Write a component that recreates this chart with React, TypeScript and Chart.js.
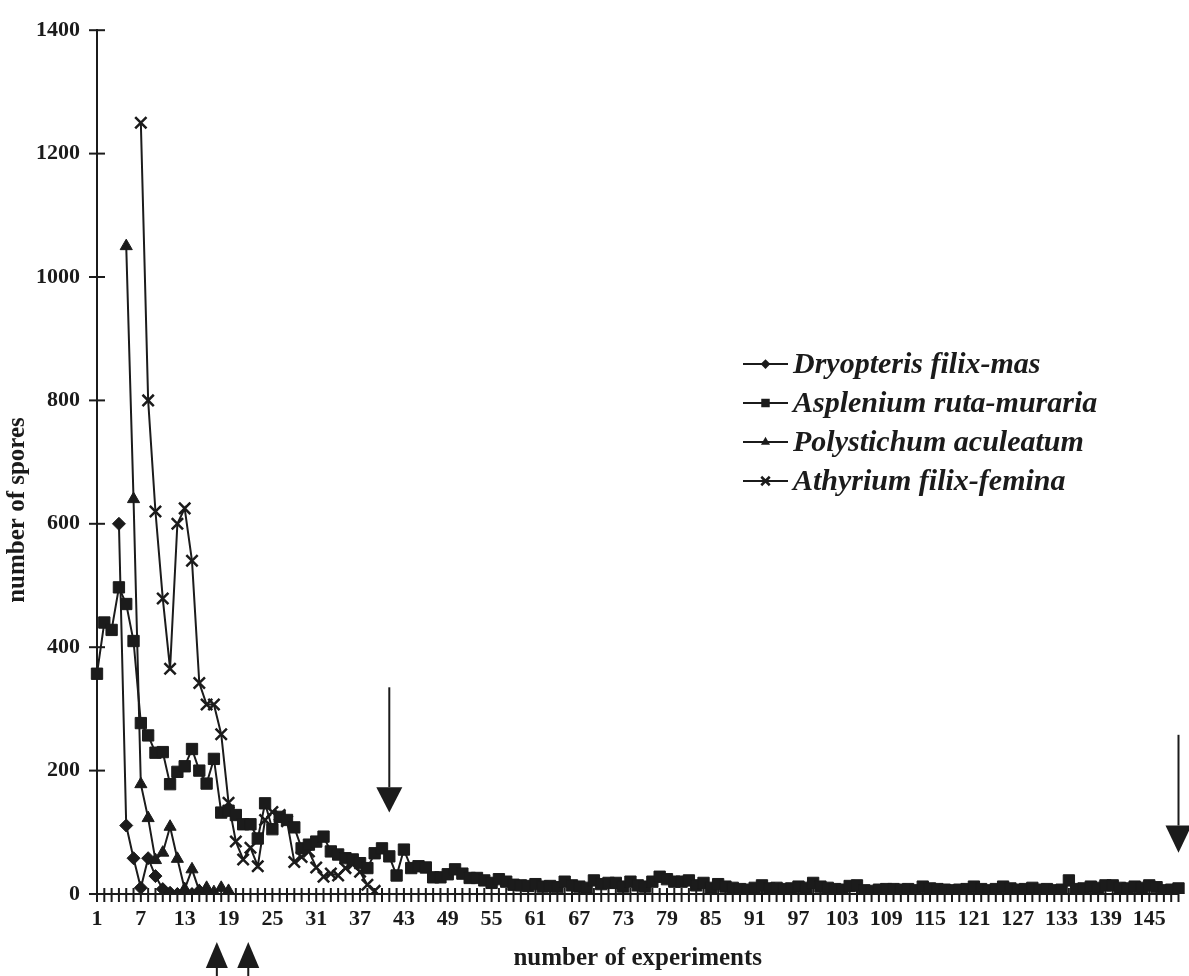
import React, { useEffect, useRef } from 'react';
import { Chart, registerables } from 'chart.js';

Chart.register(...registerables);

const INK = '#1b1b1b';
const FONT = '"Liberation Serif", "Times New Roman", serif';

const experiments: string[] = Array.from({ length: 149 }, (_, i) => String(i + 1));

const dryopteris: (number | null)[] = [
  null, null, null, 600, 111, 58, 10, 58, 29, 8, 2, 0, 3, 0, 5, 0,
];

const asplenium: number[] = [
  357, 440, 428, 497, 470, 410, 277, 257, 229, 230,
  178, 198, 207, 235, 200, 179, 219, 132, 135, 128,
  113, 113, 90, 147, 105, 125, 120, 108, 74, 80,
  85, 93, 69, 64, 58, 56, 50, 42, 66, 74,
  61, 30, 72, 42, 45, 43, 27, 27, 32, 40,
  33, 26, 26, 22, 18, 24, 20, 15, 14, 13,
  16, 12, 13, 11, 20, 14, 12, 10, 22, 16,
  18, 18, 12, 20, 14, 12, 20, 28, 24, 20,
  20, 22, 14, 18, 10, 16, 12, 10, 8, 7,
  10, 14, 9, 10, 8, 9, 12, 10, 18, 12,
  10, 8, 7, 13, 14, 6, 5, 7, 8, 8,
  7, 8, 6, 12, 9, 8, 7, 6, 7, 8,
  12, 8, 6, 8, 12, 9, 7, 8, 10, 7,
  8, 6, 7, 22, 8, 9, 12, 10, 14, 14,
  10, 9, 12, 10, 14, 11, 6, 7, 9,
];

const polystichum: (number | null)[] = [
  null, null, null, null, 1050, 640, 178, 123, 55, 67,
  109, 57, 8, 40, 5, 10, 3, 10, 5,
];

const athyrium: (number | null)[] = [
  null, null, null, null, null, null, 1250, 800, 620, 479,
  365, 600, 625, 540, 342, 307, 307, 259, 148, 85,
  56, 75, 45, 120, 133, 128, 118, 52, 60, 69,
  43, 28, 33, 30, 42, 48, 36, 15, 5,
];

const seriesNames = [
  'Dryopteris filix-mas',
  'Asplenium ruta-muraria',
  'Polystichum aculeatum',
  'Athyrium filix-femina',
];
const seriesStyles = ['rectRot', 'rect', 'triangle', 'crossRot'];
const seriesRadius = [6.5, 8, 7, 8];

const yTicks = { min: 0, max: 1400, step: 200 };
const xTitle = 'number of experiments';
const yTitle = 'number of spores';

// annotation arrows (category numbers)
const downArrowCats = [41, 149];
const upArrowCats = [17.4, 21.7];

function drawMarker(ctx: CanvasRenderingContext2D, style: string, x: number, y: number, r: number) {
  ctx.beginPath();
  if (style === 'rectRot') {
    ctx.moveTo(x - r, y); ctx.lineTo(x, y - r); ctx.lineTo(x + r, y); ctx.lineTo(x, y + r); ctx.closePath();
    ctx.fill();
  } else if (style === 'rect') {
    const s = r * Math.SQRT1_2;
    ctx.rect(x - s, y - s, 2 * s, 2 * s);
    ctx.fill();
  } else if (style === 'triangle') {
    ctx.moveTo(x, y - r);
    ctx.lineTo(x + r * 0.866, y + r * 0.5);
    ctx.lineTo(x - r * 0.866, y + r * 0.5);
    ctx.closePath();
    ctx.fill();
  } else {
    const d = r * Math.SQRT1_2;
    ctx.moveTo(x - d, y - d); ctx.lineTo(x + d, y + d);
    ctx.moveTo(x + d, y - d); ctx.lineTo(x - d, y + d);
    ctx.lineWidth = 2.5;
    ctx.stroke();
  }
}

const axisTicksPlugin = {
  id: 'crossTicks',
  beforeDatasetsDraw(chart: any) {
    const { ctx, chartArea, scales } = chart;
    ctx.save();
    ctx.strokeStyle = INK;
    ctx.lineWidth = 2;
    const ys = scales.y;
    ys.ticks.forEach((_t: any, i: number) => {
      const py = ys.getPixelForTick(i);
      ctx.beginPath();
      ctx.moveTo(chartArea.left - 8, py);
      ctx.lineTo(chartArea.left + 8, py);
      ctx.stroke();
    });
    const xs = scales.x;
    xs.ticks.forEach((_t: any, i: number) => {
      const px = xs.getPixelForTick(i);
      ctx.beginPath();
      ctx.moveTo(px, chartArea.bottom - 6);
      ctx.lineTo(px, chartArea.bottom + 8);
      ctx.stroke();
    });
    ctx.restore();
  },
};

const overlayPlugin = {
  id: 'overlay',
  afterDraw(chart: any) {
    const { ctx, chartArea, scales } = chart;
    const xs = scales.x;
    const ys = scales.y;
    ctx.save();
    ctx.fillStyle = INK;
    ctx.strokeStyle = INK;

    // y axis title
    ctx.save();
    ctx.translate(18, 510);
    ctx.rotate(-Math.PI / 2);
    ctx.font = `bold 25px ${FONT}`;
    ctx.textAlign = 'center';
    ctx.textBaseline = 'middle';
    ctx.fillText(yTitle, 0, 0);
    ctx.restore();

    // legend
    const lx0 = 743, lx1 = 788, ly0 = 364, dy = 39;
    ctx.font = `italic bold 30px ${FONT}`;
    ctx.textBaseline = 'middle';
    ctx.textAlign = 'left';
    seriesNames.forEach((name, i) => {
      const y = ly0 + i * dy;
      ctx.lineWidth = 2;
      ctx.beginPath();
      ctx.moveTo(lx0, y);
      ctx.lineTo(lx1, y);
      ctx.stroke();
      drawMarker(ctx, seriesStyles[i], (lx0 + lx1) / 2, y, seriesRadius[i] * 0.75);
      ctx.fillText(name, lx1 + 5, y + 1);
    });

    // down arrows
    downArrowCats.forEach((c, i) => {
      const px = xs.getPixelForValue(c - 1);
      const top = i === 0 ? ys.getPixelForValue(335) : ys.getPixelForValue(258);
      const base = i === 0 ? ys.getPixelForValue(173) : ys.getPixelForValue(111);
      const tip = i === 0 ? ys.getPixelForValue(132) : ys.getPixelForValue(67);
      const hw = 13;
      ctx.lineWidth = 2;
      ctx.beginPath();
      ctx.moveTo(px, top);
      ctx.lineTo(px, base);
      ctx.stroke();
      ctx.beginPath();
      ctx.moveTo(px - hw, base);
      ctx.lineTo(px + hw, base);
      ctx.lineTo(px, tip);
      ctx.closePath();
      ctx.fill();
    });

    // up arrows below the axis
    upArrowCats.forEach((c) => {
      const px = xs.getPixelForValue(c - 1);
      const tip = chartArea.bottom + 48;
      const base = chartArea.bottom + 74;
      ctx.beginPath();
      ctx.moveTo(px, tip);
      ctx.lineTo(px + 11, base);
      ctx.lineTo(px - 11, base);
      ctx.closePath();
      ctx.fill();
      ctx.lineWidth = 2;
      ctx.beginPath();
      ctx.moveTo(px, base);
      ctx.lineTo(px, chart.height);
      ctx.stroke();
    });
    ctx.restore();
  },
};

export default function App() {
  const ref = useRef<HTMLCanvasElement | null>(null);

  useEffect(() => {
    if (!ref.current) return;
    const datasets = [dryopteris, asplenium, polystichum, athyrium].map((d, i) => ({
      label: seriesNames[i],
      data: d,
      borderColor: INK,
      backgroundColor: INK,
      borderWidth: 2,
      pointStyle: seriesStyles[i] as any,
      pointRadius: seriesRadius[i],
      pointBorderWidth: i === 3 ? 2.5 : 1,
      pointBackgroundColor: INK,
      pointBorderColor: INK,
      tension: 0,
      spanGaps: false,
    }));

    const chart = new Chart(ref.current, {
      type: 'line',
      data: { labels: experiments, datasets },
      options: {
        animation: false,
        responsive: false,
        events: [],
        layout: { padding: { top: 22, right: 2, left: 0, bottom: 0 } },
        plugins: { legend: { display: false }, tooltip: { enabled: false } },
        scales: {
          x: {
            type: 'category',
            offset: false,
            grid: { display: false, drawTicks: false },
            border: { display: true, color: INK, width: 2 },
            ticks: {
              autoSkip: false,
              maxRotation: 0,
              minRotation: 0,
              padding: 12,
              color: INK,
              font: { family: FONT, size: 22, weight: 'bold' },
              callback: (_v: any, i: number) => (i % 6 === 0 ? experiments[i] : ''),
            },
            title: {
              display: true,
              text: xTitle,
              color: INK,
              font: { family: FONT, size: 25, weight: 'bold' },
              padding: { top: 0, bottom: 2 },
            },
            afterFit: (s: any) => {
              s.height = 82;
              s.paddingLeft = 0;
              s.paddingRight = 0;
            },
          },
          y: {
            min: yTicks.min,
            max: yTicks.max,
            grid: { display: false, drawTicks: false },
            border: { display: true, color: INK, width: 2 },
            ticks: {
              stepSize: yTicks.step,
              padding: 17,
              color: INK,
              font: { family: FONT, size: 22, weight: 'bold' },
              callback: (v: any) => String(v),
            },
            afterFit: (s: any) => { s.width = 97; },
          },
        },
      },
      plugins: [axisTicksPlugin, overlayPlugin],
    });
    return () => chart.destroy();
  }, []);

  return (
    <div style={{ position: 'fixed', left: 0, top: 0, width: 1189, height: 976, background: '#fff' }}>
      <canvas ref={ref} width={1189} height={976} style={{ width: 1189, height: 976, display: 'block' }} />
    </div>
  );
}
